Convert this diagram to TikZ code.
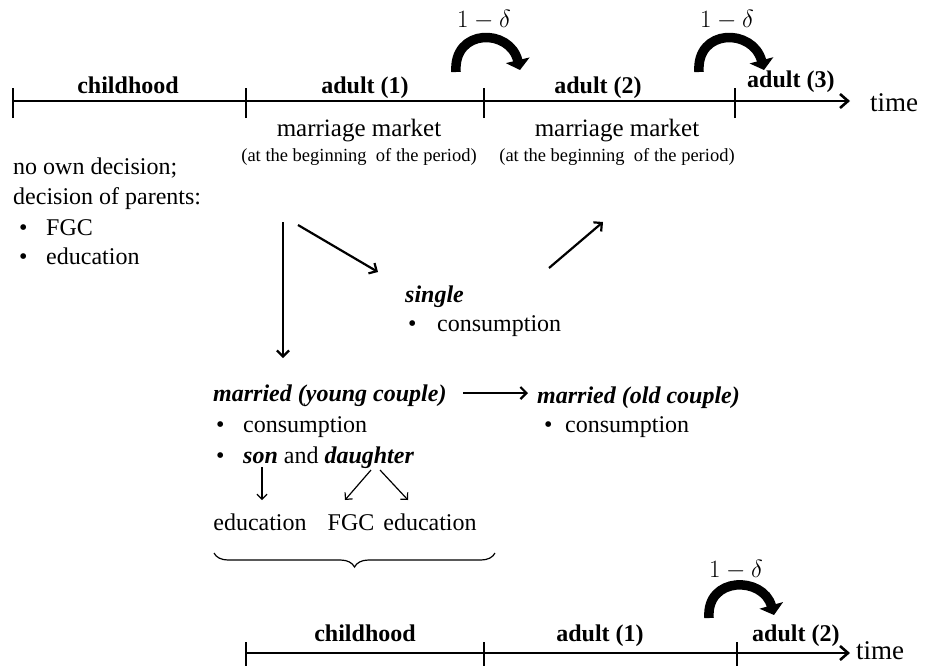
\documentclass[tikz,border=0pt]{standalone}
\usepackage{fontspec}
\setmainfont{Liberation Serif}
\usetikzlibrary{arrows.meta,decorations.pathreplacing}
\newcommand{\mainsize}{\fontsize{24}{29}\selectfont}
\newcommand{\smallsize}{\fontsize{18.5}{22}\selectfont}
\begin{document}
\begin{tikzpicture}[x=1pt,y=-1pt,
  txt/.style={inner sep=0pt,font=\mainsize},
  mkt/.style={inner sep=0pt,font=\fontsize{25}{30}\selectfont},
  sml/.style={inner sep=0pt,font=\smallsize},
  lab/.style={inner sep=0pt,font=\mainsize\bfseries},
  bi/.style={inner sep=0pt,font=\mainsize\bfseries\itshape},
  tm/.style={inner sep=0pt,font=\fontsize{27}{30}\selectfont},
  axis/.style={line width=2.6pt,-{Straight Barb[length=8pt,width=14pt,line width=2.6pt]}},
  tick/.style={line width=2.6pt},
  flow/.style={line width=2.2pt,-{Straight Barb[length=6pt,width=12pt,line width=2.2pt]}},
  thin/.style={line width=1.2pt,-{Straight Barb[length=5pt,width=10pt,line width=1.2pt]}},
  loop/.style={line width=9.5pt,-{Triangle[length=10pt,width=24pt]}},
  delta/.style={inner sep=0pt,font=\fontsize{26}{30}\selectfont}]
\useasboundingbox (0,0) rectangle (928,665);
% ---------- top time line
\coordinate (t0) at (13,101);
\coordinate (t1) at (246,101);
\coordinate (t2) at (484,101);
\coordinate (t3) at (735,101);
\coordinate (tend) at (850,101);
\draw[axis] (t0) -- (tend);
\foreach \c in {t0,t1,t2,t3} \draw[tick] ([yshift=-17pt]\c) -- ([yshift=13pt]\c);
\node[lab,anchor=base] (lc) at (128,93) {childhood};
\node[lab,anchor=base] (la1) at (365,93) {adult (1)};
\node[lab,anchor=base] (la2) at (598,93) {adult (2)};
\node[lab,anchor=base west] (la3) at (747,87) {adult (3)};
\node[tm,anchor=base west] (time1) at (870,111) {time};
% loops
\coordinate (a1s) at (456,72);
\coordinate (a1e) at (520,70);
\draw[loop] (a1s) .. controls (453,28) and (510,28) .. (a1e);
\node[delta,anchor=base] (d1) at (484,27) {$1-\delta$};
\coordinate (a2s) at (699,72);
\coordinate (a2e) at (764,70);
\draw[loop] (a2s) .. controls (696,28) and (753,28) .. (a2e);
\node[delta,anchor=base] (d2) at (727,27) {$1-\delta$};
% ---------- left block
\node[txt,anchor=base west] (n1) at (13,174) {no own decision;};
\node[txt,anchor=base west] (n2) at (13,204) {decision of parents:};
\node[txt,anchor=base west] (b1) at (19,235) {•};
\node[txt,anchor=base west] (n3) at (46,235) {FGC};
\node[txt,anchor=base west] (b2) at (19,264) {•};
\node[txt,anchor=base west] (n4) at (46,264) {education};
% ---------- marriage markets
\node[mkt,anchor=base] (mm1) at (359,136) {marriage market};
\node[sml,anchor=base] (mm1s) at (359,161) {(at the beginning\ \ of the period)};
\node[mkt,anchor=base] (mm2) at (617,136) {marriage market};
\node[sml,anchor=base] (mm2s) at (617,161) {(at the beginning\ \ of the period)};
% ---------- single
\node[bi,anchor=base west] (sg) at (405,302) {single};
\node[txt,anchor=base west] (sgb) at (408,331) {•};
\node[txt,anchor=base west] (sgc) at (437,331) {consumption};
% ---------- married young
\node[bi,anchor=base west] (my) at (213,401) {married (young couple)};
\node[txt,anchor=base west] (myb1) at (216,432) {•};
\node[txt,anchor=base west] (myc) at (243,432) {consumption};
\node[txt,anchor=base west] (myb2) at (216,463) {•};
\node[txt,anchor=base west] (mysd) at (243,463) {\textbf{\textit{son}} and \textbf{\textit{daughter}}};
% ---------- married old
\node[bi,anchor=base west] (mo) at (537,403) {married (old couple)};
\node[txt,anchor=base west] (mob) at (544,432) {•};
\node[txt,anchor=base west] (moc) at (565,432) {consumption};
% ---------- children outcomes
\node[txt,anchor=base] (e1) at (260,530) {education};
\node[txt,anchor=base] (fgc) at (351,530) {FGC};
\node[txt,anchor=base] (e2) at (430,530) {education};
% ---------- arrows
\coordinate (v0) at (283,222);
\coordinate (v1) at (283,358);
\draw[flow] (v0) -- (v1);
\coordinate (s0) at (298,225);
\coordinate (s1) at (378,272);
\draw[flow] (s0) -- (s1);
\coordinate (u0) at (549,268);
\coordinate (u1) at (603,222);
\draw[flow] (u0) -- (u1);
\coordinate (h0) at (463,393);
\coordinate (h1) at (528,393);
\draw[flow] (h0) -- (h1);
\coordinate (c0) at (262,467);
\coordinate (c1) at (262,500);
\draw[thin] (c0) -- (c1);
\coordinate (c2) at (371,470);
\coordinate (c3) at (345,500);
\draw[thin] (c2) -- (c3);
\coordinate (c4) at (380,470);
\coordinate (c5) at (408,500);
\draw[thin] (c4) -- (c5);
% ---------- brace
\coordinate (br0) at (214,553);
\coordinate (br1) at (495,553);
\draw[line width=1.2pt,decorate,decoration={brace,amplitude=14pt,aspect=0.5,mirror}] (br0) -- (br1);
% ---------- bottom time line
\coordinate (b0) at (246,653);
\coordinate (b1) at (484,653);
\coordinate (b2) at (737,653);
\coordinate (bend) at (850,653);
\draw[axis] (b0) -- (bend);
\foreach \c in {b0,b1,b2} \draw[tick] ([yshift=-16pt]\c) -- ([yshift=11pt]\c);
\node[lab,anchor=base] (blc) at (365,641) {childhood};
\node[lab,anchor=base] (bla1) at (600,641) {adult (1)};
\node[lab,anchor=base west] (bla2) at (752,641) {adult (2)};
\node[tm,anchor=base west] (time2) at (856,659) {time};
\coordinate (a3s) at (709,618);
\coordinate (a3e) at (774,615);
\draw[loop] (a3s) .. controls (706,576) and (763,576) .. (a3e);
\node[delta,anchor=base] (d3) at (736,577) {$1-\delta$};
\end{tikzpicture}
\end{document}
